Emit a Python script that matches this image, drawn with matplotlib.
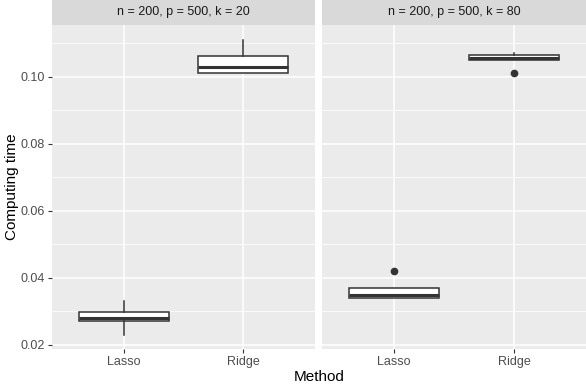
import matplotlib
matplotlib.use("Agg")
import matplotlib.pyplot as plt

plt.rcParams['font.family'] = ['Liberation Sans', 'DejaVu Sans']

methods = ["Lasso", "Ridge"]
panel_titles = ["n = 200, p = 500, k = 20", "n = 200, p = 500, k = 80"]

# box stats per panel, per method: whislo, q1, med, q3, whishi, outliers
whislo = [[0.0230, 0.1012], [0.0339, 0.1050]]
q1 = [[0.0271, 0.1012], [0.0339, 0.1050]]
med = [[0.0280, 0.1031], [0.0349, 0.1056]]
q3 = [[0.0299, 0.1061], [0.0369, 0.1064]]
whishi = [[0.0330, 0.1110], [0.0369, 0.1070]]
fliers = [[[], []], [[0.0421], [0.1012]]]

y_ticks = [0.02, 0.04, 0.06, 0.08, 0.10]
y_minor = [0.03, 0.05, 0.07, 0.09, 0.11]

fig = plt.figure(figsize=(5.86, 3.84), dpi=100)
fig.patch.set_facecolor("white")

W, H = 586, 384
panels = [(52, 315), (322, 586)]
top, bottom = 25, 349.3
line_col = "#333333"

for i, (x0, x1) in enumerate(panels):
    ax = fig.add_axes([x0 / W, 1 - bottom / H, (x1 - x0) / W, (bottom - top) / H])
    ax.set_facecolor("#EBEBEB")
    for s in ax.spines.values():
        s.set_visible(False)
    stats = []
    for j, m in enumerate(methods):
        stats.append(dict(label=m, whislo=whislo[i][j], q1=q1[i][j], med=med[i][j],
                          q3=q3[i][j], whishi=whishi[i][j], fliers=fliers[i][j]))
    ax.bxp(stats, positions=[0, 1], widths=0.75, patch_artist=True, showcaps=False,
           boxprops=dict(facecolor="white", edgecolor=line_col, linewidth=1.1),
           medianprops=dict(color=line_col, linewidth=2.2),
           whiskerprops=dict(color=line_col, linewidth=1.1),
           flierprops=dict(marker="o", markerfacecolor=line_col, markeredgecolor=line_col,
                           markersize=4.5),
           zorder=3)
    ax.set_xlim(-0.6, 1.6)
    ax.set_ylim(0.0187, 0.1155)
    ax.set_xticks([0, 1])
    ax.set_xticklabels(methods)
    ax.set_yticks(y_ticks)
    ax.set_yticks(y_minor, minor=True)
    ax.grid(True, which="major", color="white", linewidth=1.1, zorder=0)
    ax.grid(True, which="minor", axis="y", color="white", linewidth=0.55, zorder=0)
    ax.set_axisbelow(True)
    ax.tick_params(axis="both", which="major", length=3, width=0.8, color=line_col,
                   labelsize=9, labelcolor="#4D4D4D", pad=2)
    ax.tick_params(axis="both", which="minor", length=0)
    if i == 0:
        ax.set_yticklabels(["%.2f" % v for v in y_ticks])
    else:
        ax.tick_params(axis="y", which="major", length=0, labelleft=False)

    sax = fig.add_axes([x0 / W, 1 - top / H, (x1 - x0) / W, top / H])
    sax.set_facecolor("#D9D9D9")
    sax.set_xticks([])
    sax.set_yticks([])
    for s in sax.spines.values():
        s.set_visible(False)
    sax.text(0.5, 0.5, panel_titles[i], ha="center", va="center", fontsize=9,
             color="#1A1A1A", transform=sax.transAxes)

fig.text((52 + 586) / 2 / W, 1 - 377 / H, "Method", ha="center", va="center", fontsize=11)
fig.text(12 / W, 1 - (top + bottom) / 2 / H, "Computing time", ha="center", va="center",
         rotation=90, fontsize=11)

fig.savefig("out.png", dpi=100)
